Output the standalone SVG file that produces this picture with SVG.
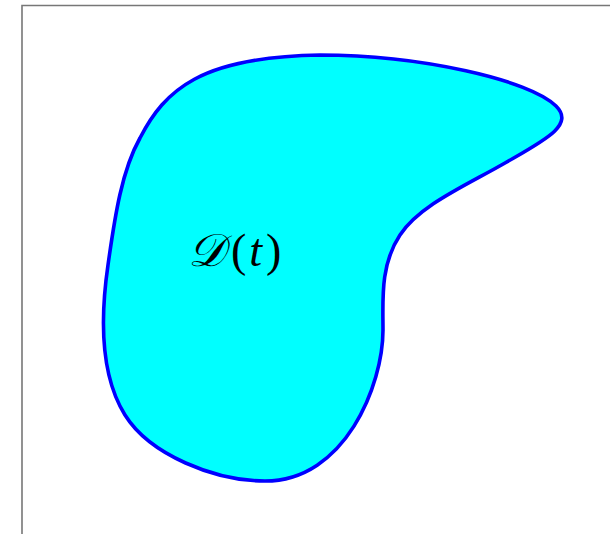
<svg xmlns="http://www.w3.org/2000/svg" width="610" height="534" viewBox="0 0 610 534">
<style>
.frame{fill:none;stroke:#777;stroke-width:1.6}
.region{fill:#00ffff;stroke:#0000ff;stroke-width:3.6;stroke-linejoin:round}
.lbl{font-family:"Liberation Serif","DejaVu Serif",serif;font-size:46px;fill:#000}
</style>
<g id="frame"><path class="frame" d="M22 534 V5.5 H610"/></g>
<g id="region">
<path class="region" d="M320 55 C420 55 530 80 556 106 C575 125 545 140 505 163 C465 186 420 205 400 235 C380 265 383 300 383 330 C383 385 345 481 265 481 C215 481 150 455 125 415 C100 375 100 320 108 265 C115 215 122 170 140 138 C165 90 200 57 320 55 Z"/>
<text class="lbl" x="188" y="266"><tspan font-style="italic">𝒟</tspan><tspan dx="6">(</tspan><tspan dx="3" font-style="italic">t</tspan><tspan dx="4">)</tspan></text>
</g>
</svg>
